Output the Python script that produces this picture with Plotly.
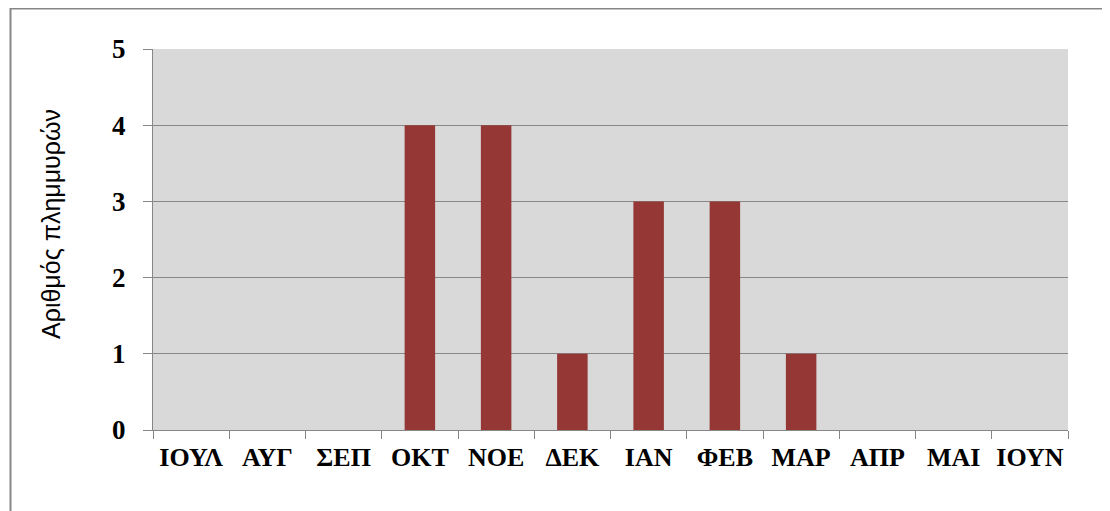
import plotly.graph_objects as go

months = ["ΙΟΥΛ", "ΑΥΓ", "ΣΕΠ", "ΟΚΤ", "ΝΟΕ", "ΔΕΚ", "ΙΑΝ", "ΦΕΒ", "ΜΑΡ", "ΑΠΡ", "ΜΑΙ", "ΙΟΥΝ"]
floods = [0, 0, 0, 4, 4, 1, 3, 3, 1, 0, 0, 0]
y_ticks = [0, 1, 2, 3, 4, 5]
y_title = "Αριθμός πλημμυρών"

OFF = 8  # page body margin
W, H = 1110 - OFF, 511 - OFF
L, R, T, B = 153 - OFF, 42, 49 - OFF, 81
pw, ph = W - L - R, H - T - B

def px2paper_x(px):
    return (px - OFF - L) / pw

def px2paper_y(py):
    return (H - B - (py - OFF)) / ph

serif = "Liberation Serif, Times New Roman, serif"

fig = go.Figure(go.Bar(x=months, y=floods, marker=dict(color="#953735", line=dict(width=0)), width=0.4))

fig.add_shape(type="rect", xref="paper", yref="paper",
              x0=px2paper_x(10.5), x1=px2paper_x(1125), y0=px2paper_y(8.5), y1=px2paper_y(530),
              line=dict(color="#878787", width=2), fillcolor="rgba(0,0,0,0)", layer="above")

fig.add_annotation(text=y_title, xref="paper", yref="paper",
                   x=px2paper_x(51), y=px2paper_y(224), xanchor="center", yanchor="middle",
                   textangle=-90, showarrow=False,
                   font=dict(family="Liberation Sans, Arial, sans-serif", size=25, color="black"))

fig.update_layout(
    width=W, height=H,
    margin=dict(l=L, r=R, t=T, b=B, pad=0),
    paper_bgcolor="white", plot_bgcolor="#d9d9d9",
    showlegend=False,
    bargap=0.6,
)
fig.update_xaxes(
    type="category", tickson="boundaries", ticks="outside", ticklen=8, tickcolor="#878787", tickwidth=1,
    showline=True, linecolor="#878787", linewidth=1, showgrid=False,
    tickfont=dict(family=serif, size=26, color="black", weight="bold"),
    tickangle=0, automargin=False,
    ticklabelstandoff=4,
    range=[-0.5, 11.5],
)
fig.update_yaxes(
    range=[0, 5], tickvals=y_ticks, ticktext=[str(v) for v in y_ticks],
    ticks="outside", ticklen=9, tickcolor="#878787", tickwidth=1,
    showline=True, linecolor="#878787", linewidth=1,
    showgrid=True, gridcolor="#878787", gridwidth=1, zeroline=False,
    tickfont=dict(family=serif, size=27, color="black", weight="bold"),
    ticklabelstandoff=12, automargin=False,
)

fig.write_html("out.html")
